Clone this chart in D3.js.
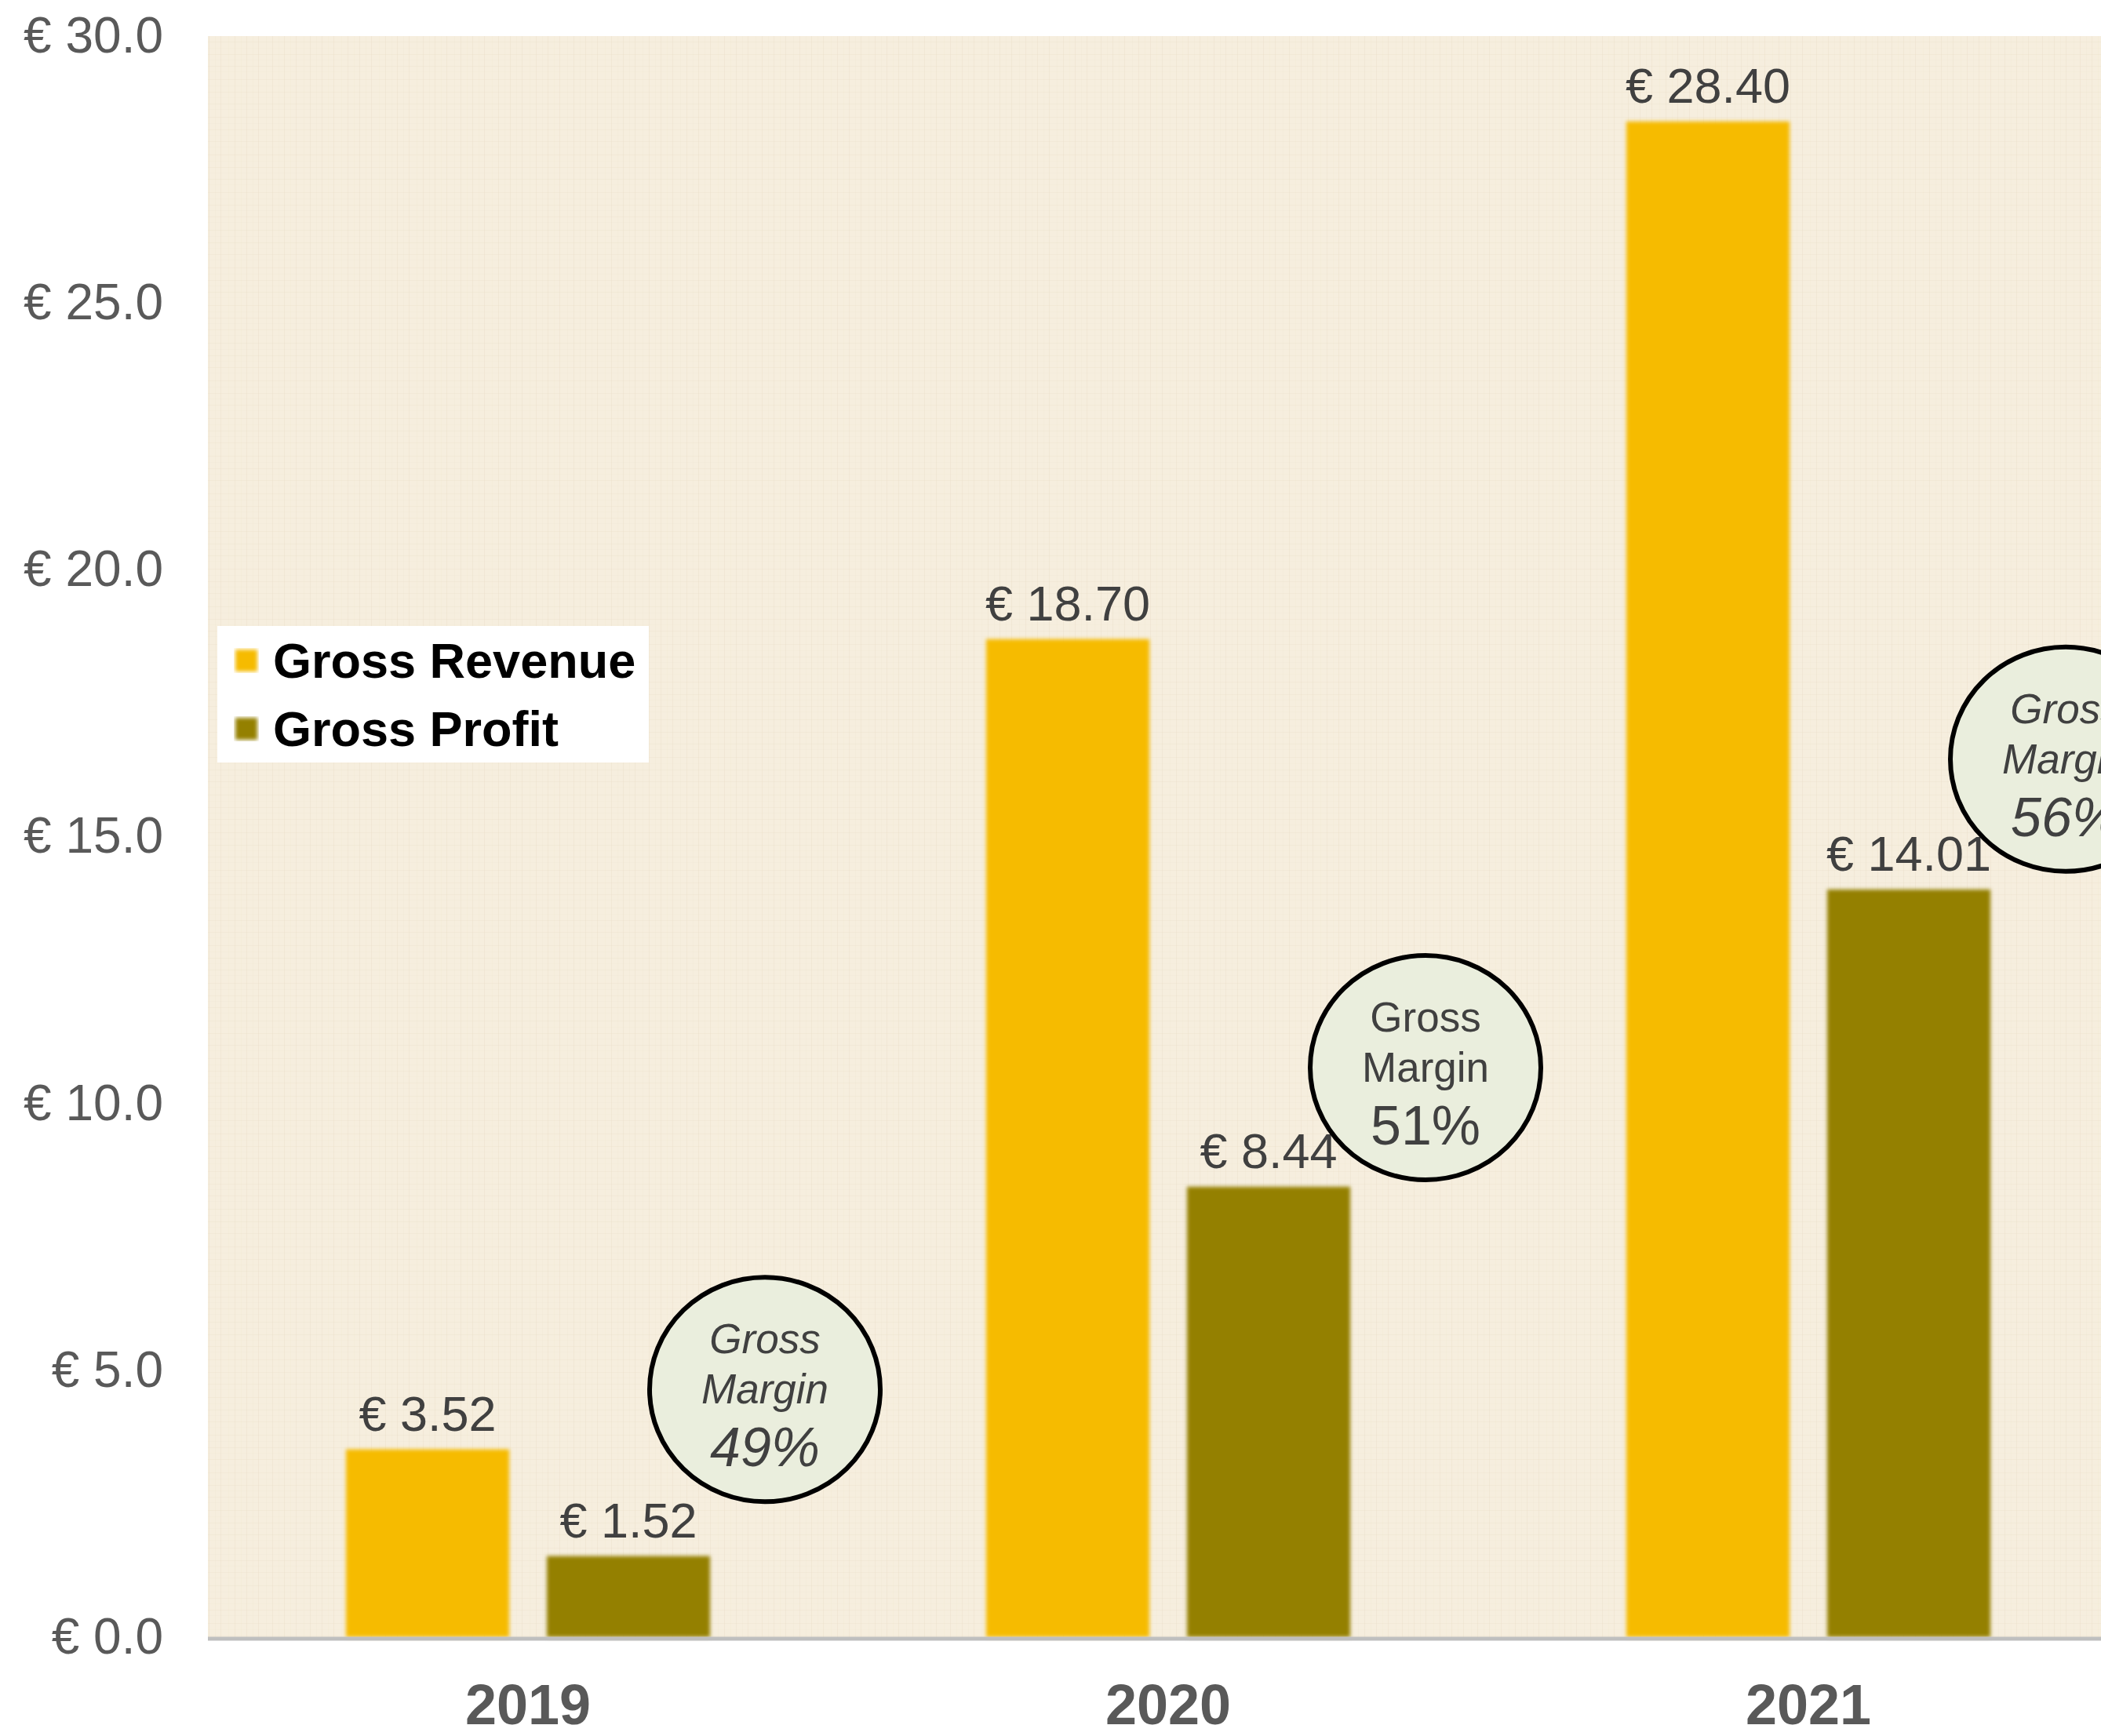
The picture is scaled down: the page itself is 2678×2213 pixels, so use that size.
<!DOCTYPE html>
<html>
<head>
<meta charset="utf-8">
<script src="https://cdn.jsdelivr.net/npm/d3@7"></script>
<style>
  body { margin: 0; background: #fff; }
  text { font-family: "Liberation Sans", Arial, sans-serif; }
</style>
</head>
<body>
<script>
// chart values
const years = ["2019", "2020", "2021"];
const seriesNames = ["Gross Revenue", "Gross Profit"];
const revenue = [3.52, 18.70, 28.40];
const profit = [1.52, 8.44, 14.01];
const margins = ["49%", "51%", "56%"];
const yTicks = [0, 5, 10, 15, 20, 25, 30];

// layout (not data)
const W = 2678, H = 2213;
const plot = { left: 265, top: 46, right: 2713, bottom: 2087 };
const colors = ["#F6BB00", "#948005"];
const badgeY = [4.64, 10.67, 16.45];      // badge centre, in value units
const badgeDx = [70, 96, 96];             // badge centre, px right of profit bar
const badgeItalic = [true, false, true];

let svg, x0, x1, y;

setupSvg();
setupScales();
drawBackground();
drawYAxis();
drawBars();
drawXAxis();
drawLegend();
drawBadges();

function setupSvg() {
  svg = d3.select("body").append("svg")
    .attr("width", W)
    .attr("height", H);

  const defs = svg.append("defs");

  // linen-like texture for the plot area
  const pat = defs.append("pattern")
    .attr("id", "linen")
    .attr("patternUnits", "userSpaceOnUse")
    .attr("width", 48).attr("height", 48);
  pat.append("rect").attr("width", 48).attr("height", 48).attr("fill", "#F6EEDE");
  [3, 11, 19, 26, 34, 41].forEach(function(p, i) {
    pat.append("rect").attr("x", p).attr("y", 0).attr("width", 1).attr("height", 48)
      .attr("fill", "#E6DAC2").attr("opacity", i % 2 ? 0.3 : 0.15);
    pat.append("rect").attr("x", 0).attr("y", p + 2).attr("width", 48).attr("height", 1)
      .attr("fill", "#E9DEC7").attr("opacity", i % 2 ? 0.15 : 0.3);
  });

  // soft edges on the bars
  defs.append("filter").attr("id", "soft")
    .attr("x", "-5%").attr("y", "-5%").attr("width", "110%").attr("height", "110%")
    .append("feGaussianBlur").attr("stdDeviation", 2.5);
}

function setupScales() {
  x0 = d3.scaleBand()
    .domain(years)
    .range([plot.left, plot.right])
    .padding(0);

  x1 = d3.scaleBand()
    .domain(seriesNames)
    .range([0, x0.bandwidth()])
    .paddingInner(0.1875)
    .paddingOuter(0.6875);

  y = d3.scaleLinear()
    .domain([0, 30])
    .range([plot.bottom, plot.top]);
}

function drawBackground() {
  svg.append("rect")
    .attr("x", plot.left).attr("y", plot.top)
    .attr("width", W - plot.left).attr("height", plot.bottom - plot.top)
    .attr("fill", "url(#linen)");
}

function drawYAxis() {
  const g = svg.append("g")
    .attr("transform", `translate(${plot.left},0)`)
    .call(d3.axisLeft(y)
      .tickValues(yTicks)
      .tickSize(0)
      .tickPadding(57)
      .tickFormat(function(d) { return "€ " + d.toFixed(1); }));
  g.select(".domain").remove();
  g.selectAll("text")
    .attr("font-family", "Liberation Sans, Arial, sans-serif")
    .attr("font-size", 64)
    .attr("fill", "#595959");
}

function drawBars() {
  const rows = years.map(function(yr, i) {
    return [
      { year: yr, name: seriesNames[0], value: revenue[i] },
      { year: yr, name: seriesNames[1], value: profit[i] }
    ];
  });

  const groups = svg.selectAll(".group")
    .data(rows)
    .enter().append("g")
    .attr("class", "group")
    .attr("transform", function(d) { return `translate(${x0(d[0].year)},0)`; });

  groups.selectAll("rect")
    .data(function(d) { return d; })
    .enter().append("rect")
    .attr("x", function(d) { return x1(d.name); })
    .attr("y", function(d) { return y(d.value); })
    .attr("width", x1.bandwidth())
    .attr("height", function(d) { return y(0) - y(d.value); })
    .attr("fill", function(d, i) { return colors[i]; })
    .attr("filter", "url(#soft)");

  groups.selectAll(".val")
    .data(function(d) { return d; })
    .enter().append("text")
    .attr("class", "val")
    .attr("x", function(d) { return x1(d.name) + x1.bandwidth() / 2; })
    .attr("y", function(d) { return y(d.value) - 24; })
    .attr("text-anchor", "middle")
    .attr("font-size", 63)
    .attr("fill", "#404040")
    .text(function(d) { return "€ " + d.value.toFixed(2); });
}

function drawXAxis() {
  svg.append("line")
    .attr("x1", plot.left).attr("x2", W)
    .attr("y1", y(0) + 2).attr("y2", y(0) + 2)
    .attr("stroke", "#BFBFBF")
    .attr("stroke-width", 5);

  const g = svg.append("g")
    .attr("transform", `translate(0,${y(0)})`)
    .call(d3.axisBottom(x0).tickSize(0).tickPadding(60));
  g.select(".domain").remove();
  g.selectAll("text")
    .attr("font-family", "Liberation Sans, Arial, sans-serif")
    .attr("font-size", 72)
    .attr("font-weight", "bold")
    .attr("fill", "#595959");
}

function drawLegend() {
  const lg = svg.append("g").attr("class", "legend");
  lg.append("rect")
    .attr("x", 277).attr("y", 798)
    .attr("width", 550).attr("height", 174)
    .attr("fill", "#fff");

  const items = lg.selectAll(".item")
    .data(seriesNames)
    .enter().append("g")
    .attr("transform", function(d, i) { return `translate(300,${842 + i * 87})`; });

  items.append("rect")
    .attr("x", 0).attr("y", -14)
    .attr("width", 28).attr("height", 28)
    .attr("fill", function(d, i) { return colors[i]; })
    .attr("filter", "url(#soft)");

  items.append("text")
    .attr("x", 48).attr("y", 22)
    .attr("font-size", 63)
    .attr("font-weight", "bold")
    .attr("fill", "#000")
    .text(function(d) { return d; });
}

function drawBadges() {
  const badges = svg.selectAll(".badge")
    .data(years)
    .enter().append("g")
    .attr("class", "badge")
    .attr("transform", function(d, i) {
      const cx = x0(d) + x1(seriesNames[1]) + x1.bandwidth() + badgeDx[i];
      return `translate(${cx},${y(badgeY[i])})`;
    });

  badges.append("ellipse")
    .attr("rx", 147).attr("ry", 143)
    .attr("fill", "#EAEEDD")
    .attr("stroke", "#000")
    .attr("stroke-width", 6);

  const style = function(sel) {
    sel.attr("text-anchor", "middle")
      .attr("fill", "#404040")
      .attr("font-style", function(d, i) { return badgeItalic[i] ? "italic" : "normal"; });
  };

  badges.append("text").call(style)
    .attr("y", -46).attr("font-size", 53).text("Gross");
  badges.append("text").call(style)
    .attr("y", 18).attr("font-size", 53).text("Margin");
  badges.append("text").call(style)
    .attr("y", 98).attr("font-size", 70)
    .text(function(d, i) { return margins[i]; });
}
</script>
</body>
</html>
